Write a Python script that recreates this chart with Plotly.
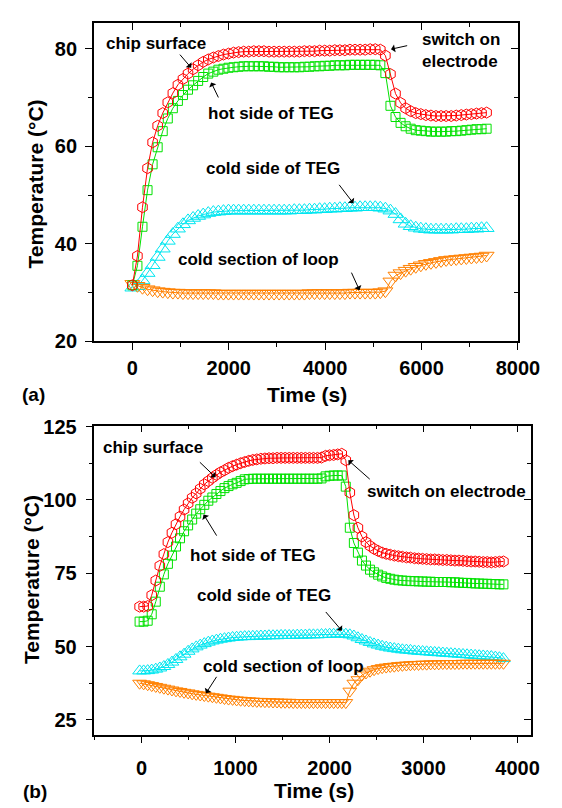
import plotly.graph_objects as go

# ---------------- Panel (a) data ----------------
time_a = [0, 105, 210, 315, 420, 525, 630, 735, 840, 945,
          1050, 1155, 1260, 1365, 1470, 1575, 1680, 1785, 1890, 1995,
          2100, 2205, 2310, 2415, 2520, 2625, 2730, 2835, 2940, 3045,
          3150, 3255, 3360, 3465, 3570, 3675, 3780, 3885, 3990, 4095,
          4200, 4305, 4410, 4515, 4620, 4725, 4830, 4935, 5040, 5145,
          5250, 5355, 5460, 5565, 5670, 5775, 5880, 5985, 6090, 6195,
          6300, 6405, 6510, 6615, 6720, 6825, 6930, 7035, 7140, 7245, 7350]
chip_a = [31.5, 37.5, 47.5, 55.5, 60.8, 64.2, 66.8, 69.0, 70.9, 72.6,
          73.8, 74.9, 75.8, 76.6, 77.3, 77.8, 78.2, 78.5, 78.8, 79.0,
          79.2, 79.3, 79.4, 79.4, 79.5, 79.5, 79.5, 79.4, 79.4, 79.4,
          79.4, 79.4, 79.4, 79.4, 79.5, 79.5, 79.5, 79.6, 79.6, 79.6,
          79.7, 79.7, 79.7, 79.8, 79.8, 79.8, 79.8, 79.9, 79.9, 79.8,
          78.6, 74.8, 70.8, 68.9, 67.8, 67.2, 66.8, 66.6, 66.4, 66.3,
          66.2, 66.2, 66.2, 66.2, 66.3, 66.4, 66.5, 66.6, 66.7, 66.8, 66.9]
hot_a = [31.5, 35.5, 43.5, 51.0, 56.3, 59.8, 63.1, 65.7, 67.8, 69.3,
         70.5, 71.6, 72.5, 73.4, 74.2, 74.9, 75.3, 75.7, 75.9, 76.1,
         76.2, 76.3, 76.4, 76.4, 76.4, 76.4, 76.4, 76.3, 76.3, 76.2,
         76.2, 76.2, 76.2, 76.2, 76.3, 76.3, 76.4, 76.4, 76.5, 76.5,
         76.6, 76.6, 76.6, 76.7, 76.7, 76.7, 76.7, 76.7, 76.7, 76.6,
         75.0, 68.3, 66.0, 64.8, 64.1, 63.6, 63.3, 63.2, 63.1, 63.0,
         63.0, 63.0, 63.0, 63.1, 63.1, 63.2, 63.3, 63.4, 63.5, 63.5, 63.6]
coldteg_a = [31.0, 31.3, 32.5, 34.0, 35.6, 37.3, 39.0, 40.6, 42.0, 43.1,
             44.0, 44.8, 45.3, 45.7, 46.0, 46.3, 46.5, 46.6, 46.7, 46.8,
             46.8, 46.8, 46.8, 46.8, 46.8, 46.8, 46.8, 46.8, 46.8, 46.8,
             46.8, 46.8, 46.9, 46.9, 46.9, 47.0, 47.0, 47.1, 47.1, 47.2,
             47.2, 47.3, 47.3, 47.4, 47.4, 47.5, 47.5, 47.5, 47.5, 47.4,
             47.2, 46.8, 46.1, 45.0, 44.1, 43.6, 43.3, 43.1, 43.0, 42.9,
             42.9, 42.9, 42.9, 42.9, 43.0, 43.0, 43.0, 43.1, 43.1, 43.2, 43.2]
loop_a = [31.8, 31.4, 31.0, 30.7, 30.5, 30.3, 30.2, 30.1, 30.0, 30.0,
          29.9, 29.9, 29.9, 29.9, 29.9, 29.9, 29.9, 29.8, 29.8, 29.8,
          29.8, 29.8, 29.8, 29.8, 29.8, 29.8, 29.8, 29.8, 29.8, 29.8,
          29.8, 29.8, 29.8, 29.8, 29.8, 29.9, 29.9, 29.9, 29.9, 29.9,
          29.9, 29.9, 29.9, 30.0, 30.0, 30.0, 30.0, 30.0, 30.0, 30.1,
          30.3, 32.3, 33.5, 34.0, 34.5, 34.9, 35.3, 35.6, 35.9, 36.1,
          36.3, 36.5, 36.7, 36.8, 36.9, 37.0, 37.1, 37.2, 37.3, 37.4, 37.6]

# ---------------- Panel (b) data ----------------
time_b = [-20, 23, 66, 109, 152, 195, 238, 281, 324, 367,
          410, 453, 496, 539, 582, 625, 668, 711, 754, 797,
          840, 883, 926, 969, 1012, 1055, 1098, 1141, 1184, 1227,
          1270, 1313, 1356, 1399, 1442, 1485, 1528, 1571, 1614, 1657,
          1700, 1743, 1786, 1829, 1872, 1915, 1958, 2001, 2044, 2087,
          2130, 2173, 2216, 2259, 2302, 2345, 2388, 2431, 2474, 2517,
          2560, 2603, 2646, 2689, 2732, 2775, 2818, 2861, 2904, 2947,
          2990, 3033, 3076, 3119, 3162, 3205, 3248, 3291, 3334, 3377,
          3420, 3463, 3506, 3549, 3592, 3635, 3678, 3721, 3764, 3807, 3850]
chip_b = [63.6, 63.6, 63.8, 67.5, 72.5, 77.5, 81.5, 85.6, 88.8, 91.7,
          94.3, 96.7, 98.8, 100.7, 102.2, 103.8, 105.3, 106.4, 107.5, 108.5,
          109.4, 110.1, 110.9, 111.5, 112.0, 112.5, 112.9, 113.3, 113.6, 113.8,
          114.0, 114.1, 114.2, 114.2, 114.3, 114.3, 114.3, 114.3, 114.3, 114.3,
          114.3, 114.3, 114.3, 114.3, 114.3, 114.4, 115.0, 115.2, 115.3, 115.5,
          115.7, 113.5, 102.5, 94.8, 90.5, 87.5, 85.6, 84.3, 83.3, 82.6,
          82.0, 81.6, 81.3, 81.0, 80.8, 80.6, 80.4, 80.3, 80.1, 80.0,
          79.9, 79.8, 79.7, 79.7, 79.6, 79.5, 79.5, 79.4, 79.3, 79.3,
          79.2, 79.1, 79.0, 79.0, 78.9, 78.8, 78.8, 78.7, 78.8, 78.9, 79.0]
hot_b = [58.5, 58.5, 58.8, 61.0, 65.3, 70.4, 74.6, 78.2, 81.0, 84.1,
         86.9, 89.3, 91.3, 93.3, 95.3, 96.8, 98.3, 99.7, 100.8, 102.0,
         103.0, 104.0, 104.7, 105.3, 105.8, 106.4, 107.0, 107.1, 107.2, 107.2,
         107.2, 107.2, 107.2, 107.2, 107.2, 107.2, 107.2, 107.2, 107.2, 107.2,
         107.2, 107.2, 107.2, 107.2, 107.2, 107.3, 108.0, 108.2, 108.3, 108.3,
         108.3, 104.5, 90.5, 85.3, 82.0, 79.3, 77.6, 76.2, 75.3, 74.5,
         73.9, 73.4, 73.1, 72.8, 72.6, 72.5, 72.4, 72.3, 72.3, 72.2,
         72.2, 72.1, 72.1, 72.0, 72.0, 72.0, 72.0, 71.9, 71.9, 71.8,
         71.7, 71.7, 71.6, 71.5, 71.5, 71.4, 71.4, 71.3, 71.3, 71.2, 71.2]
coldteg_b = [41.7, 41.7, 41.8, 42.0, 42.3, 42.7, 43.2, 43.9, 44.7, 45.6,
             46.5, 47.4, 48.4, 49.2, 49.9, 50.5, 51.0, 51.5, 51.9, 52.2,
             52.5, 52.7, 52.9, 53.1, 53.2, 53.3, 53.4, 53.4, 53.5, 53.5,
             53.6, 53.6, 53.7, 53.7, 53.7, 53.8, 53.8, 53.8, 53.8, 53.9,
             53.9, 53.9, 54.0, 54.0, 54.0, 54.1, 54.1, 54.2, 54.2, 54.3,
             54.3, 54.2, 54.0, 53.6, 53.0, 52.4, 51.9, 51.4, 50.9, 50.5,
             50.1, 49.8, 49.5, 49.3, 49.1, 48.9, 48.8, 48.7, 48.5, 48.4,
             48.3, 48.2, 48.1, 48.0, 47.9, 47.8, 47.7, 47.6, 47.5, 47.4,
             47.3, 47.2, 47.1, 47.0, 46.9, 46.8, 46.7, 46.6, 46.4, 46.2, 45.9]
loop_b = [37.5, 37.3, 37.0, 36.7, 36.4, 36.1, 35.8, 35.5, 35.2, 34.9,
          34.7, 34.4, 34.2, 33.9, 33.7, 33.5, 33.3, 33.1, 32.9, 32.7,
          32.5, 32.3, 32.1, 32.0, 31.8, 31.7, 31.6, 31.5, 31.4, 31.3,
          31.3, 31.2, 31.2, 31.1, 31.1, 31.0, 31.0, 31.0, 30.9, 30.9,
          30.9, 30.9, 30.9, 30.9, 30.9, 30.9, 30.9, 30.9, 30.9, 30.9,
          30.9, 30.9, 34.8, 37.5, 38.7, 40.3, 41.0, 41.6, 42.1, 42.5,
          42.8, 43.0, 43.2, 43.3, 43.5, 43.6, 43.7, 43.8, 43.9, 43.9,
          44.0, 44.0, 44.1, 44.1, 44.1, 44.2, 44.2, 44.2, 44.2, 44.2,
          44.3, 44.3, 44.3, 44.3, 44.3, 44.3, 44.3, 44.3, 44.3, 44.3, 44.3]

xticks_a = [0, 2000, 4000, 6000, 8000]
yticks_a = [20, 40, 60, 80]
xticks_b = [0, 1000, 2000, 3000, 4000]
yticks_b = [25, 50, 75, 100, 125]

RED = "rgb(255,0,0)"
GREEN = "rgb(0,225,0)"
CYAN = "rgb(0,230,240)"
ORANGE = "rgb(255,128,0)"
FONT = "Liberation Sans, Arial, sans-serif"

fig = go.Figure()


def add_series(x, y, color, symbol, size, xa, ya):
    fig.add_trace(go.Scatter(
        x=x, y=y, mode="lines+markers", xaxis=xa, yaxis=ya,
        line=dict(color=color, width=1),
        marker=dict(symbol=symbol, size=size, color=color,
                    line=dict(color=color, width=1)),
        showlegend=False, hoverinfo="skip"))


# panel (a)
add_series(time_a, coldteg_a, CYAN, "triangle-up-open", 13, "x", "y")
add_series(time_a, loop_a, ORANGE, "triangle-down-open", 13, "x", "y")
add_series(time_a, hot_a, GREEN, "square-open", 9, "x", "y")
add_series(time_a, chip_a, RED, "hexagon-open", 11, "x", "y")
# panel (b)
add_series(time_b, coldteg_b, CYAN, "triangle-up-open", 12, "x2", "y2")
add_series(time_b, loop_b, ORANGE, "triangle-down-open", 12, "x2", "y2")
add_series(time_b, hot_b, GREEN, "square-open", 9, "x2", "y2")
add_series(time_b, chip_b, RED, "hexagon-open", 11, "x2", "y2")

# empty traces so that the mirrored (inside-tick) overlay axes get drawn
for xa, ya in [("x3", "y"), ("x", "y3"), ("x4", "y2"), ("x2", "y4")]:
    fig.add_trace(go.Scatter(x=[], y=[], xaxis=xa, yaxis=ya,
                             showlegend=False, hoverinfo="skip"))

tickfont = dict(family=FONT, size=20, color="black", weight="bold")
ax_common = dict(showgrid=False, zeroline=False, showline=True, linecolor="black",
                 linewidth=1.5, ticks="outside", ticklen=7, tickwidth=1.3,
                 tickcolor="black", tickfont=tickfont)

XA_DOM = [89.3 / 562, 530.7 / 562]
YA_DOM = [1 - 332 / 808, 1 - 5 / 808]
XB_DOM = [90 / 562, 544 / 562]
YB_DOM = [1 - 735.7 / 808, 1 - 418.5 / 808]

RX_A = [-800, 8000]
RY_A = [20, 85.3]
RX_B = [-500, 4140]
RY_B = [20, 125.3]

minor_x_a = dict(dtick=1000, tick0=0, ticklen=4, tickwidth=1.3, tickcolor="black", ticks="outside")
minor_y_a = dict(dtick=10, tick0=0, ticklen=4, tickwidth=1.3, tickcolor="black", ticks="outside")
minor_x_b = dict(dtick=500, tick0=0, ticklen=4, tickwidth=1.3, tickcolor="black", ticks="outside")
minor_y_b = dict(dtick=12.5, tick0=0, ticklen=4, tickwidth=1.3, tickcolor="black", ticks="outside")


def inside(m):
    d = dict(m)
    d["ticks"] = "inside"
    return d


fig.update_layout(
    width=562, height=808,
    margin=dict(l=0, r=0, t=0, b=0),
    paper_bgcolor="white", plot_bgcolor="white",
    xaxis=dict(ax_common, domain=XA_DOM, range=RX_A, tickvals=xticks_a,
               anchor="y", minor=minor_x_a, ticklabelstandoff=1),
    yaxis=dict(ax_common, domain=YA_DOM, range=RY_A, tickvals=yticks_a,
               anchor="x", minor=minor_y_a, ticklabelstandoff=4),
    xaxis2=dict(ax_common, domain=XB_DOM, range=RX_B, tickvals=xticks_b,
                anchor="y2", minor=minor_x_b, ticklabelstandoff=8),
    yaxis2=dict(ax_common, domain=YB_DOM, range=RY_B, tickvals=yticks_b,
                anchor="x2", minor=minor_y_b, ticklabelstandoff=5),
    xaxis3=dict(ax_common, overlaying="x", side="top", anchor="y", range=RX_A,
                tickvals=xticks_a, ticks="inside", showticklabels=False,
                minor=inside(minor_x_a)),
    yaxis3=dict(ax_common, overlaying="y", side="right", anchor="x", range=RY_A,
                tickvals=yticks_a, ticks="inside", showticklabels=False,
                minor=inside(minor_y_a)),
    xaxis4=dict(ax_common, overlaying="x2", side="top", anchor="y2", range=RX_B,
                tickvals=xticks_b, ticks="inside", showticklabels=False,
                minor=inside(minor_x_b)),
    yaxis4=dict(ax_common, overlaying="y2", side="right", anchor="x2", range=RY_B,
                tickvals=yticks_b, ticks="inside", showticklabels=False,
                minor=inside(minor_y_b)),
)

ann_font = dict(family=FONT, size=17, color="black", weight="bold")
title_font = dict(family=FONT, size=21, color="black", weight="bold")

annotations = []


def label(text, x, y, xr, yr, xanchor="center", align="center"):
    annotations.append(dict(text=text, x=x, y=y, xref=xr, yref=yr, showarrow=False,
                            font=ann_font, xanchor=xanchor, yanchor="middle", align=align))


def arrow(x, y, ax, ay, xr, yr):
    annotations.append(dict(text="", x=x, y=y, ax=ax, ay=ay, xref=xr, yref=yr,
                            axref=xr, ayref=yr, showarrow=True, arrowhead=1,
                            arrowsize=1.3, arrowwidth=1, arrowcolor="black", standoff=0))


# panel (a) labels
label("chip surface", 500, 81.0, "x", "y")
arrow(1220, 76.1, 960, 79.1, "x", "y")
label("hot side of TEG", 2870, 66.7, "x", "y")
arrow(1634, 73.1, 1800, 69.7, "x", "y")
label("switch on<br>electrode", 5974, 79.6, "x", "y", xanchor="left", align="left")
arrow(5367, 79.9, 5733, 80.7, "x", "y")
label("cold side of TEG", 2920, 55.4, "x", "y")
arrow(4587, 48.3, 4267, 52.4, "x", "y")
label("cold section of loop", 2608, 36.7, "x", "y")
arrow(4712, 30.5, 4532, 34.4, "x", "y")

# panel (b) labels
label("chip surface", 125, 117.7, "x2", "y2")
arrow(788, 107.7, 605, 113.3, "x2", "y2")
label("hot side of TEG", 1191, 81.1, "x2", "y2")
arrow(661, 95.0, 809, 87.3, "x2", "y2")
label("switch on electrode", 3240, 102.7, "x2", "y2")
arrow(2200, 113.5, 2444, 106.6, "x2", "y2")
label("cold side of TEG", 1302, 67.3, "x2", "y2")
arrow(2131, 55.4, 1947, 62.3, "x2", "y2")
label("cold section of loop", 1507, 43.2, "x2", "y2")
arrow(686, 34.1, 809, 40.2, "x2", "y2")

# axis titles and panel letters (paper coordinates)
for text, px, py, ang in [
    ("Time (s)", 311, 387, 0),
    ("Time (s)", 318.7, 793, 0),
    ("Temperature (°C)", 29, 170, -90),
    ("Temperature (°C)", 24, 577, -90),
]:
    annotations.append(dict(text=text, x=px / 562, y=1 - py / 808, xref="paper",
                            yref="paper", showarrow=False, font=title_font,
                            textangle=ang, xanchor="center", yanchor="middle"))
for text, px, py in [("(a)", 27, 386.5), ("(b)", 28, 794)]:
    annotations.append(dict(text=text, x=px / 562, y=1 - py / 808, xref="paper",
                            yref="paper", showarrow=False,
                            font=dict(family=FONT, size=19, color="black", weight="bold"),
                            xanchor="center", yanchor="middle"))

fig.update_layout(annotations=annotations)
fig.write_html("out.html")
